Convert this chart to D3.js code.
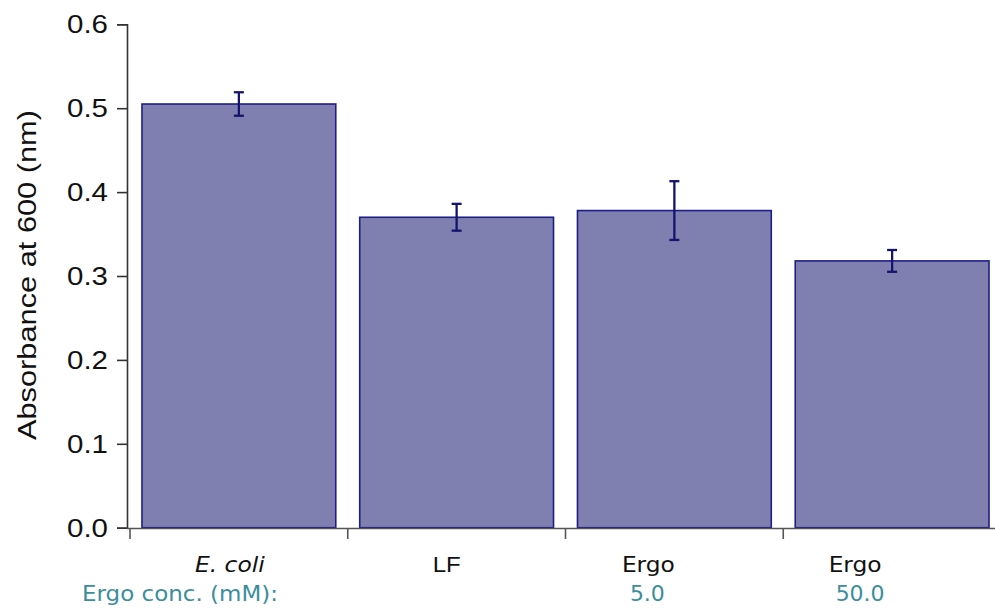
<!DOCTYPE html>
<html>
<head>
<meta charset="utf-8">
<script src="https://cdn.jsdelivr.net/npm/d3@7"></script>
<style>
  html, body { margin: 0; padding: 0; background: #fff; }
  svg { display: block; }
</style>
</head>
<body>
<svg id="chart" width="995" height="614"></svg>
<script>
// Absorbance (600) by treatment, mean ± error
const categories = ["E. coli", "LF", "Ergo", "Ergo"];
const concentrations = ["", "", "5.0", "50.0"];
const values = [0.505, 0.370, 0.378, 0.318];
const errors = [0.014, 0.016, 0.035, 0.013];
const yTicks = [0.0, 0.1, 0.2, 0.3, 0.4, 0.5, 0.6];

const svg = d3.select("#chart");
const W = 995, H = 614;
const plot = { left: 130, right: 1001, top: 24.3, bottom: 527.7 };

const y = d3.scaleLinear().domain([0, 0.6]).range([plot.bottom, plot.top]);
const x = d3.scaleBand()
  .domain(d3.range(categories.length))
  .range([plot.left, plot.right])
  .paddingInner(0.11)
  .paddingOuter(0.055);

const fill = "#7f7fb0", edge = "#1e1e8a", errColor = "#14146e";
const teal = "#3b8e9c";

// bars
svg.append("g").selectAll("rect")
  .data(values)
  .join("rect")
  .attr("x", (d, i) => x(i))
  .attr("y", d => y(d))
  .attr("width", x.bandwidth())
  .attr("height", d => y(0) - y(d))
  .attr("fill", fill)
  .attr("stroke", edge)
  .attr("stroke-width", 1.6);

// error bars
const eg = svg.append("g").attr("stroke", errColor).attr("stroke-width", 2.3);
values.forEach((v, i) => {
  const cx = x(i) + x.bandwidth() / 2;
  const hi = y(v + errors[i]), lo = y(v - errors[i]);
  eg.append("line").attr("x1", cx).attr("x2", cx).attr("y1", hi).attr("y2", lo);
  eg.append("line").attr("x1", cx - 5).attr("x2", cx + 5).attr("y1", hi).attr("y2", hi);
  eg.append("line").attr("x1", cx - 5).attr("x2", cx + 5).attr("y1", lo).attr("y2", lo);
});

// y axis
const yAxis = d3.axisLeft(y).tickValues(yTicks).tickFormat(d3.format(".1f")).tickSize(10).tickPadding(9);
const yg = svg.append("g")
  .attr("transform", `translate(127,0)`)
  .call(yAxis);
yg.select(".domain").attr("stroke", "#333").attr("stroke-width", 1.6);
yg.selectAll(".tick line").attr("stroke", "#333").attr("stroke-width", 1.6);
yg.selectAll(".tick text")
  .attr("fill", "#111")
  .style("font-family", "'Liberation Sans', Arial, sans-serif")
  .style("font-size", "26px")
  .attr("textLength", 41)
  .attr("lengthAdjust", "spacingAndGlyphs");

// x axis line with ticks at band boundaries
const step = x.step();
const xg = svg.append("g").attr("stroke", "#555").attr("stroke-width", 1.6);
xg.append("line").attr("x1", 127).attr("x2", W).attr("y1", 528.5).attr("y2", 528.5);
d3.range(categories.length).forEach(i => {
  const bx = x(i) - step * x.paddingInner() / 2;
  xg.append("line").attr("x1", bx).attr("x2", bx).attr("y1", 528.5).attr("y2", 539);
});

// category labels
const nudge = [-9, -10, -26, -37];
const labelWidth = [70, 28, 53, 53];
svg.append("g").selectAll("text")
  .data(categories)
  .join("text")
  .attr("x", (d, i) => x(i) + x.bandwidth() / 2 + nudge[i])
  .attr("y", 572)
  .attr("text-anchor", "middle")
  .attr("fill", "#111")
  .style("font-family", (d, i) => i === 1 ? "'Liberation Sans', Arial, sans-serif" : "'DejaVu Sans', Verdana, sans-serif")
  .style("font-size", "22px")
  .style("font-style", (d, i) => i === 0 ? "italic" : "normal")
  .attr("textLength", (d, i) => labelWidth[i])
  .attr("lengthAdjust", "spacingAndGlyphs")
  .text(d => d);

// concentration row
const cNudge = [0, 0, -27, -32];
svg.append("text")
  .attr("x", 82).attr("y", 601)
  .attr("fill", teal)
  .style("font-family", "'DejaVu Sans', Verdana, sans-serif")
  .style("font-size", "22px")
  .attr("textLength", 196)
  .attr("lengthAdjust", "spacingAndGlyphs")
  .text("Ergo conc. (mM):");
svg.append("g").selectAll("text")
  .data(concentrations)
  .join("text")
  .attr("x", (d, i) => x(i) + x.bandwidth() / 2 + cNudge[i])
  .attr("y", 601)
  .attr("text-anchor", "middle")
  .attr("fill", teal)
  .style("font-family", "'DejaVu Sans', Verdana, sans-serif")
  .style("font-size", "22px")
  .text(d => d);

// y axis title
svg.append("text")
  .attr("transform", `translate(36,275) rotate(-90)`)
  .attr("text-anchor", "middle")
  .attr("fill", "#111")
  .style("font-family", "'Liberation Sans', Arial, sans-serif")
  .style("font-size", "26px")
  .attr("textLength", 330)
  .attr("lengthAdjust", "spacingAndGlyphs")
  .text("Absorbance at 600 (nm)");
</script>
</body>
</html>
